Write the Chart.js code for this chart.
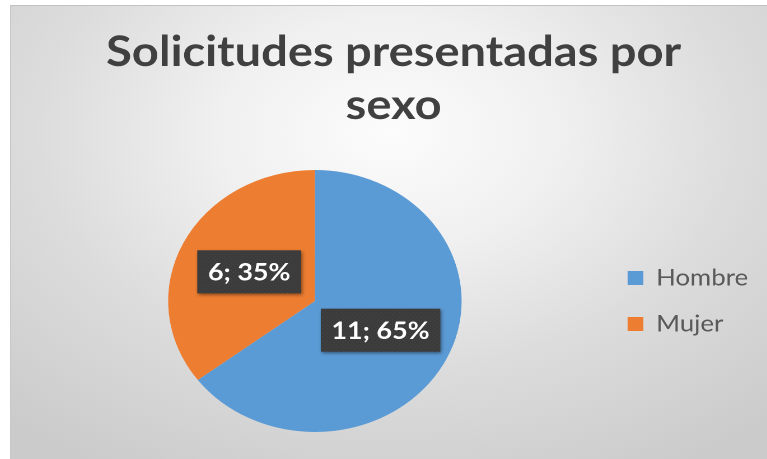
<!DOCTYPE html>
<html>
<head>
<meta charset="utf-8">
<script src="https://cdn.jsdelivr.net/npm/chart.js@4/dist/chart.umd.min.js"></script>
<style>
  html, body { margin: 0; padding: 0; background: #fff; width: 767px; height: 459px; overflow: hidden; }
  #frame {
    position: absolute; left: 10px; top: 5px; width: 757px; height: 454px;
    box-sizing: border-box;
    border-top: 1px solid #c2c2c2; border-left: 1px solid #c8c8c8;
    background: radial-gradient(ellipse 75% 85% at 50% 28%, #fcfcfc 0%, #f0f0f0 30%, #dcdcdc 62%, #cbcbcb 100%);
  }
  /* the picture is stretched sideways, so the canvas is too */
  #chart { position: absolute; left: -1px; top: -1px; transform: scaleX(1.12); transform-origin: 0 0; }
</style>
</head>
<body>
<div id="frame"><canvas id="chart" width="676" height="454"></canvas></div>
<script>
const categories = ['Hombre', 'Mujer'];
const counts = [11, 6];
const sliceColors = ['#5B9BD5', '#ED7D31'];
const titleLines = ['Solicitudes presentadas por', 'sexo'];

const total = counts.reduce((a, b) => a + b, 0);
const pct = v => Math.round(v / total * 100);

Chart.defaults.font.family = 'Lato';

// dotted dark fill for the label boxes
function boxPattern(ctx) {
  const c = document.createElement('canvas');
  c.width = 4; c.height = 4;
  const p = c.getContext('2d');
  p.fillStyle = '#3b3b3b';
  p.fillRect(0, 0, 4, 4);
  p.fillStyle = '#4a4a4a';
  p.fillRect(1, 1, 1, 1);
  p.fillRect(3, 3, 1, 1);
  return ctx.createPattern(c, 'repeat');
}

// dark boxes with "value; percent" on each slice
const sliceLabels = {
  id: 'sliceLabels',
  afterDatasetsDraw(chart) {
    const { ctx } = chart;
    const meta = chart.getDatasetMeta(0);
    const fill = boxPattern(ctx);
    ctx.save();
    ctx.font = 'bold 24px Lato';
    ctx.textAlign = 'center';
    ctx.textBaseline = 'middle';
    meta.data.forEach((arc, i) => {
      const { x, y } = arc.tooltipPosition();
      const text = counts[i] + '; ' + pct(counts[i]) + '%';
      const w = ctx.measureText(text).width + 19;
      const h = 43;
      ctx.shadowColor = 'rgba(0,0,0,0.45)';
      ctx.shadowBlur = 6;
      ctx.shadowOffsetX = 2;
      ctx.shadowOffsetY = 3;
      ctx.fillStyle = fill;
      ctx.fillRect(x - w / 2, y - h / 2, w, h);
      ctx.shadowColor = 'transparent';
      ctx.fillStyle = '#ffffff';
      ctx.fillText(text, x, y + 1);
    });
    ctx.restore();
  }
};

new Chart(document.getElementById('chart'), {
  type: 'pie',
  data: {
    labels: categories,
    datasets: [{
      data: counts,
      backgroundColor: sliceColors,
      borderWidth: 0,
      hoverOffset: 0
    }]
  },
  options: {
    responsive: false,
    devicePixelRatio: 2,
    animation: false,
    layout: { padding: { left: 16, right: 7, top: 0, bottom: 27 } },
    plugins: {
      title: {
        display: true,
        text: titleLines,
        color: '#404040',
        font: { size: 42, weight: 'bold', lineHeight: '53px' },
        padding: { top: 21, bottom: 38 }
      },
      legend: {
        position: 'right',
        fullSize: false,
        maxWidth: 141,
        labels: {
          color: '#595959',
          font: { size: 23 },
          boxWidth: 14,
          boxHeight: 14,
          padding: 23
        }
      },
      tooltip: { enabled: false }
    }
  },
  plugins: [sliceLabels]
});
</script>
</body>
</html>
